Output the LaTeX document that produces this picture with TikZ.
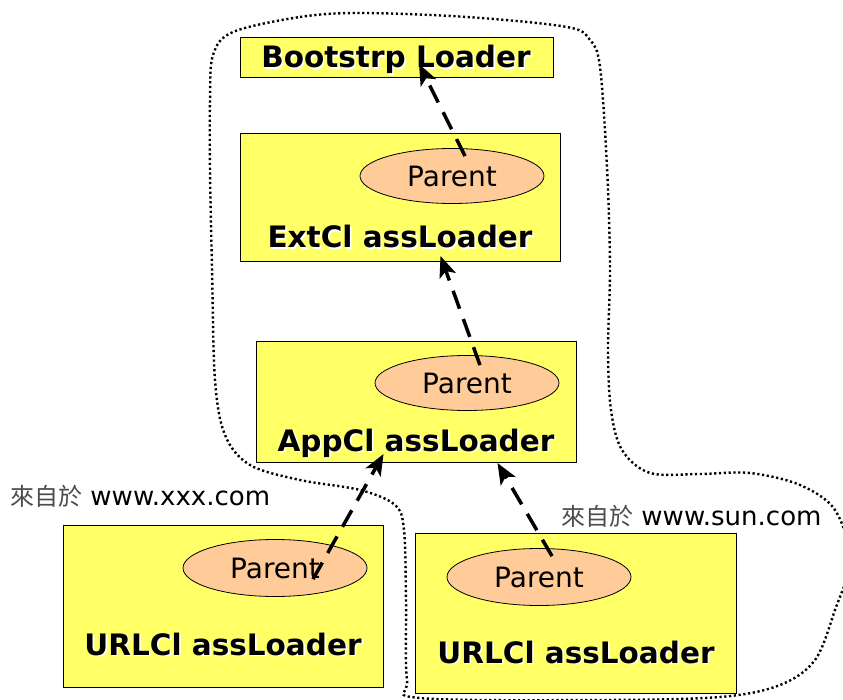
\documentclass[tikz,border=0pt]{standalone}
\usepackage{fontspec}
\setmainfont{DejaVu Sans}
\newfontfamily\cjkfont{Noto Sans CJK TC}
\usetikzlibrary{shapes.geometric}
\usetikzlibrary{arrows.meta}
\usetikzlibrary{calc}

\definecolor{loaderyellow}{RGB}{255,255,102}
\definecolor{parentpeach}{RGB}{255,204,153}

% white drop shadow behind the loader names
\newcommand{\shadowed}[1]{\makebox[0pt][l]{\raisebox{-1.6pt}{\hspace{1.6pt}\textcolor{white}{#1}}}#1}

\tikzset{
  loader/.style={draw=black, line width=1pt, fill=loaderyellow, anchor=north west, inner sep=0pt},
  loadername/.style={anchor=base, inner sep=0pt, font=\fontsize{29.5}{30}\selectfont\bfseries},
  parentoval/.style={ellipse, draw=black, line width=0.8pt, fill=parentpeach, inner sep=0pt,
    minimum width=184pt, minimum height=55pt, font=\fontsize{28}{28}\selectfont},
  delegate/.style={line width=3.5pt, dash pattern=on 19pt off 11pt,
    -{Stealth[length=21pt,width=17pt,inset=5pt]}},
  boundary/.style={line width=2.4pt, dash pattern=on 2.2pt off 2.6pt},
  origin/.style={anchor=base west, inner sep=0pt, font=\fontsize{26}{26}\selectfont}
}

\begin{document}
\begin{tikzpicture}[x=1pt,y=-1pt]
        \useasboundingbox (0,0) rectangle (843,700);

        % the trusted area
        \draw[boundary] plot[smooth cycle, tension=0.55] coordinates {
          (233,32) (300,17) (360,13) (467,17) (567,27) (590,40) (600,67) (607,167)
          (610,267) (608,350) (611,410) (622,450) (650,473) (700,474) (750,473)
          (800,485) (835,510) (850,560) (835,610) (815,660) (780,685) (720,697)
          (600,700) (420,698) (407,680) (406,600) (404,530) (395,505) (360,490)
          (300,480) (250,465) (225,435) (215,380) (212,267) (210,170) (210,100)
          (213,55)};

        \node (boot) at (240,37) [loader, minimum width=313pt, minimum height=40pt] {};
        \node (bootname) at (396,68) [loadername] {\shadowed{Bootstrp Loader}};

        \node (ext) at (240,133) [loader, minimum width=320pt, minimum height=128pt] {};
        \node (extp) at (452,176) [parentoval] {Parent};
        \node (extname) at (400,248) [loadername] {\shadowed{ExtCl assLoader}};

        \node (app) at (256,341) [loader, minimum width=320pt, minimum height=121pt] {};
        \node (appp) at (467,383) [parentoval] {Parent};
        \node (appname) at (416,451) [loadername] {\shadowed{AppCl assLoader}};

        \node (urlA) at (63,525) [loader, minimum width=320pt, minimum height=162pt] {};
        \node (urlAp) at (275,568) [parentoval, minimum height=57pt] {Parent};
        \node (urlAname) at (223,655) [loadername] {\shadowed{URLCl assLoader}};

        \node (urlB) at (415,533) [loader, minimum width=321pt, minimum height=160pt] {};
        \node (urlBp) at (539,577) [parentoval, minimum height=57pt] {Parent};
        \node (urlBname) at (576,663) [loadername] {\shadowed{URLCl assLoader}};

        \node (fromxxx) at (10,505) [origin] {{\cjkfont\fontsize{24}{24}\selectfont\color{black!70}來自於} www.xxx.com};
        \node (fromsun) at (561,525) [origin] {{\cjkfont\fontsize{24}{24}\selectfont\color{black!70}來自於} www.sun.com};

        \draw[delegate] ($(extp.north)+(13,8)$) -- ($(boot.south)+(22,-14)$);
        \draw[delegate] ($(appp.north)+(13,10)$) -- ($(ext.south)+(40,-6)$);
        \draw[delegate] ($(urlAp.north)+(38,40)$) -- ($(app.south)+(-33,-9)$);
        \draw[delegate] ($(urlBp.north)+(13,8)$) -- ($(app.south)+(81,0)$);
\end{tikzpicture}
\end{document}
